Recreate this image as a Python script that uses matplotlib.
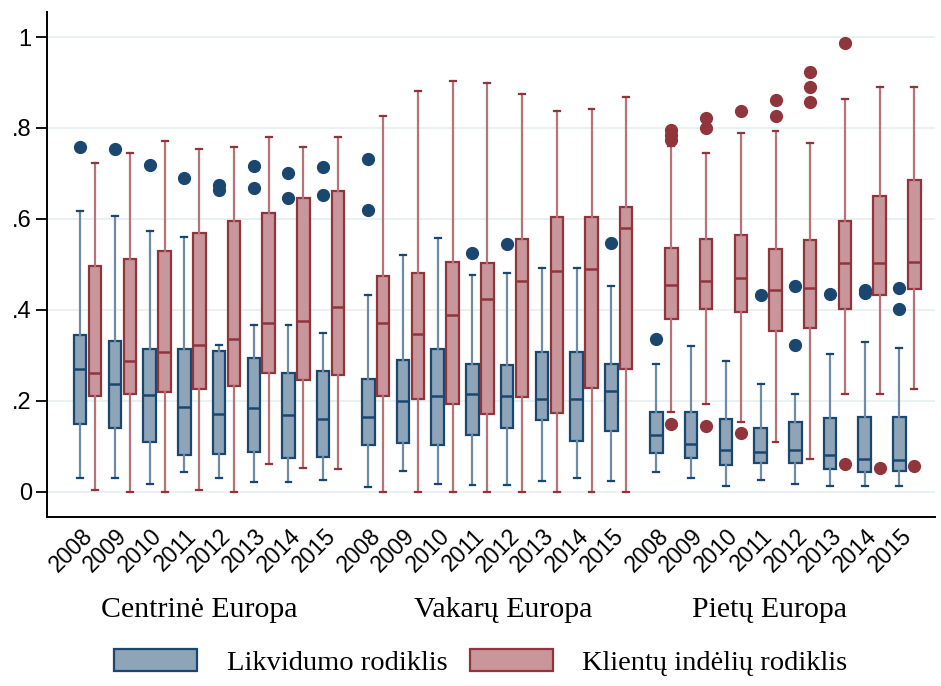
import numpy as np
import matplotlib.pyplot as plt
from matplotlib.patches import Patch
from matplotlib.transforms import ScaledTranslation

years = ['2008', '2009', '2010', '2011', '2012', '2013', '2014', '2015']
regions = ['Centrinė Europa', 'Vakarų Europa', 'Pietų Europa']
region_label_x = [0.2115, 0.5345, 0.818]
series = ['Likvidumo rodiklis', 'Klientų indėlių rodiklis']

# five-number summaries per region/year: (whisker low, q1, median, q3, whisker high)
liq_stats = [
    [(0.031, 0.150, 0.270, 0.344, 0.617), (0.031, 0.141, 0.237, 0.332, 0.607),
     (0.018, 0.110, 0.212, 0.313, 0.574), (0.044, 0.081, 0.187, 0.313, 0.560),
     (0.031, 0.084, 0.171, 0.310, 0.322), (0.022, 0.088, 0.185, 0.295, 0.366),
     (0.022, 0.075, 0.168, 0.262, 0.366), (0.026, 0.077, 0.160, 0.266, 0.349)],
    [(0.010, 0.103, 0.165, 0.249, 0.432), (0.045, 0.108, 0.199, 0.289, 0.520),
     (0.018, 0.103, 0.211, 0.313, 0.559), (0.015, 0.125, 0.215, 0.282, 0.476),
     (0.015, 0.141, 0.211, 0.278, 0.480), (0.023, 0.158, 0.204, 0.308, 0.493),
     (0.031, 0.112, 0.204, 0.308, 0.491), (0.023, 0.133, 0.221, 0.280, 0.453)],
    [(0.044, 0.086, 0.125, 0.176, 0.282), (0.031, 0.075, 0.106, 0.176, 0.321),
     (0.013, 0.059, 0.092, 0.161, 0.287), (0.026, 0.064, 0.088, 0.141, 0.238),
     (0.018, 0.064, 0.092, 0.154, 0.216), (0.013, 0.049, 0.081, 0.163, 0.304),
     (0.013, 0.044, 0.073, 0.165, 0.330), (0.013, 0.046, 0.070, 0.165, 0.317)],
]
liq_out = [
    [[0.758], [0.753], [0.718], [0.691], [0.674, 0.663], [0.716, 0.668], [0.700, 0.645], [0.715, 0.652]],
    [[0.731, 0.619], [], [], [0.524], [0.544], [], [], [0.546]],
    [[0.337], [], [], [0.432], [0.453, 0.322], [0.436], [0.443, 0.437], [0.449, 0.401]],
]

dep_stats = [
    [(0.004, 0.211, 0.262, 0.496, 0.722), (0.000, 0.215, 0.287, 0.512, 0.744),
     (0.000, 0.220, 0.308, 0.530, 0.771), (0.004, 0.226, 0.322, 0.568, 0.753),
     (0.000, 0.232, 0.335, 0.596, 0.758), (0.062, 0.262, 0.371, 0.613, 0.780),
     (0.053, 0.245, 0.375, 0.646, 0.758), (0.049, 0.256, 0.407, 0.661, 0.780)],
    [(0.000, 0.211, 0.371, 0.475, 0.826), (0.000, 0.203, 0.348, 0.482, 0.881),
     (0.000, 0.194, 0.388, 0.505, 0.903), (0.000, 0.172, 0.423, 0.502, 0.899),
     (0.000, 0.209, 0.463, 0.555, 0.875), (0.000, 0.174, 0.486, 0.604, 0.837),
     (0.000, 0.229, 0.489, 0.605, 0.841), (0.000, 0.271, 0.581, 0.626, 0.867)],
    [(0.176, 0.381, 0.454, 0.537, 0.760), (0.194, 0.401, 0.463, 0.555, 0.744),
     (0.154, 0.396, 0.469, 0.564, 0.789), (0.110, 0.354, 0.443, 0.533, 0.793),
     (0.071, 0.361, 0.447, 0.553, 0.766), (0.216, 0.401, 0.502, 0.596, 0.863),
     (0.216, 0.432, 0.502, 0.651, 0.889), (0.226, 0.445, 0.505, 0.685, 0.889)],
]
dep_out = [
    [[], [], [], [], [], [], [], []],
    [[], [], [], [], [], [], [], []],
    [[0.795, 0.784, 0.773, 0.150], [0.823, 0.799, 0.144], [0.837, 0.130], [0.861, 0.826],
     [0.923, 0.890, 0.858], [0.987, 0.062], [0.053], [0.057]],
]

blue_face, blue_edge, blue_wh = '#8ea4b8', '#1a476f', '#6f8ca6'
red_face, red_edge, red_wh = '#c8969b', '#90353b', '#b87378'

fig = plt.figure(figsize=(9.41, 6.86), dpi=100)
ax = fig.add_axes([0.050, 0.246, 0.944, 0.7365])

group_step = 8.3
off = 0.215
width = 0.36


def make_stats(s, fl):
    lo, q1, med, q3, hi = s
    return dict(whislo=lo, q1=q1, med=med, q3=q3, whishi=hi, fliers=fl)


centers = []
for g in range(len(regions)):
    for i in range(len(years)):
        centers.append(g * group_step + i)

for stats_all, outs, sign, face, edge, wh in [
        (liq_stats, liq_out, -1, blue_face, blue_edge, blue_wh),
        (dep_stats, dep_out, 1, red_face, red_edge, red_wh)]:
    bstats = []
    for g in range(len(regions)):
        for i in range(len(years)):
            bstats.append(make_stats(stats_all[g][i], outs[g][i]))
    pos = [c + sign * off for c in centers]
    ax.bxp(bstats, positions=pos, widths=width, patch_artist=True,
           showfliers=True, manage_ticks=False,
           boxprops=dict(facecolor=face, edgecolor=edge, linewidth=1.6),
           medianprops=dict(color=edge, linewidth=1.8),
           whiskerprops=dict(color=wh, linewidth=1.6),
           capprops=dict(color=edge, linewidth=1.6),
           capwidths=0.17,
           flierprops=dict(marker='o', markerfacecolor=edge, markeredgecolor=edge,
                           markersize=8.5, linestyle='none'))

ax.set_xlim(-1.17, 24.42)
ax.set_ylim(-0.056, 1.055)
ax.set_yticks([0, 0.2, 0.4, 0.6, 0.8, 1.0])
ax.set_yticklabels(['0', '.2', '.4', '.6', '.8', '1'], fontsize=17, family='Liberation Sans')
ax.yaxis.grid(True, color='#e6eff0', linewidth=1.2)
ax.set_axisbelow(True)

ax.set_xticks(centers)
ax.set_xticklabels(years * len(regions), rotation=45, ha='right', rotation_mode='anchor',
                   fontsize=16.5, family='Liberation Sans')
ax.tick_params(axis='x', length=0, pad=5)
ax.tick_params(axis='y', length=8, width=1.3, pad=3)
shift = ScaledTranslation(-7 / 100, 0, fig.dpi_scale_trans)
for lab in ax.get_xticklabels():
    lab.set_transform(lab.get_transform() + shift)

for side in ['top', 'right']:
    ax.spines[side].set_visible(False)
ax.spines['left'].set_linewidth(1.4)
ax.spines['bottom'].set_linewidth(1.4)

for name, xf in zip(regions, region_label_x):
    fig.text(xf, 0.111, name, ha='center', va='center',
             fontsize=21.5, family='Liberation Serif')

handles = [Patch(facecolor=blue_face, edgecolor=blue_edge, linewidth=1.6),
           Patch(facecolor=red_face, edgecolor=red_edge, linewidth=1.6)]
fig.legend(handles, series, loc='center', bbox_to_anchor=(0.511, 0.034), ncol=2,
           frameon=False, prop={'family': 'Liberation Serif', 'size': 20.5},
           handlelength=2.9, handleheight=0.8, columnspacing=0.8, handletextpad=1.05)

fig.savefig('out.png', dpi=100)
